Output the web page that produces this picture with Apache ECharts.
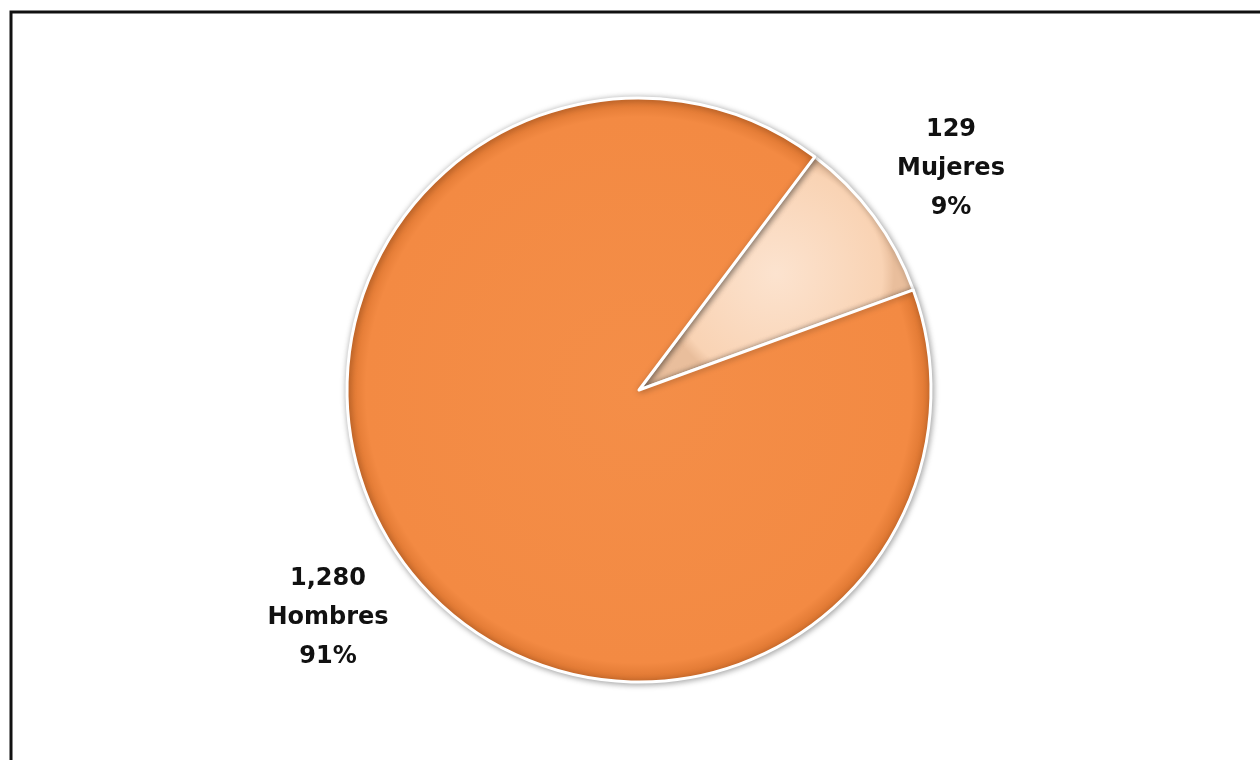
<!DOCTYPE html>
<html>
<head>
<meta charset="utf-8">
<script src="https://cdn.jsdelivr.net/npm/echarts@6/dist/echarts.min.js"></script>
<style>
html,body{margin:0;padding:0;background:#fff;}
#c{width:1260px;height:760px;}
</style>
</head>
<body>
<div id="c"></div>
<script>
const categories = ['Mujeres', 'Hombres'];
const values = [129, 1280];
const colors = ['#FAD5B8', '#F38A42'];

const total = values.reduce((a, b) => a + b, 0);
const chart = echarts.init(document.getElementById('c'), null, {renderer: 'canvas'});

const labelPos = [
  {x: 951, y: 169},
  {x: 328, y: 618}
];

chart.setOption({
  backgroundColor: '#ffffff',
  animation: false,
  graphic: [{
    type: 'rect',
    shape: {x: 11, y: 12, width: 1300, height: 800},
    style: {fill: 'none', stroke: '#111', lineWidth: 3},
    z: 100
  }],
  series: [{
    type: 'pie',
    center: [639, 390],
    radius: [0, 292],
    startAngle: 53,
    clockwise: true,
    data: categories.map((c, i) => ({
      name: c,
      value: values[i],
      itemStyle: {
        color: {
          type: 'radial', x: 0.5, y: 0.5, r: 0.5,
          colorStops: i === 0
            ? [{offset: 0, color: '#FCE3CF'}, {offset: 0.9, color: '#F9D3B4'}, {offset: 1, color: '#E9BE9C'}]
            : [{offset: 0, color: '#F48E48'}, {offset: 0.93, color: '#F38A43'}, {offset: 1, color: '#D9722D'}]
        }
      }
    })),
    itemStyle: {
      borderColor: '#ffffff',
      borderWidth: 3,
      shadowColor: 'rgba(0,0,0,0.35)',
      shadowBlur: 6,
      shadowOffsetX: 1,
      shadowOffsetY: 1
    },
    label: {
      show: true,
      position: 'outside',
      formatter: p => p.value.toLocaleString('en-US') + '\n' + p.name + '\n' + Math.round(p.value / total * 100) + '%',
      fontFamily: 'DejaVu Sans',
      fontWeight: 'bold',
      fontSize: 24,
      lineHeight: 39,
      color: '#111',
      align: 'center'
    },
    labelLine: {show: false},
    labelLayout: p => ({
      x: labelPos[p.dataIndex].x,
      y: labelPos[p.dataIndex].y,
      align: 'center',
      verticalAlign: 'middle'
    }),
    emphasis: {disabled: true}
  }]
});
</script>
</body>
</html>
